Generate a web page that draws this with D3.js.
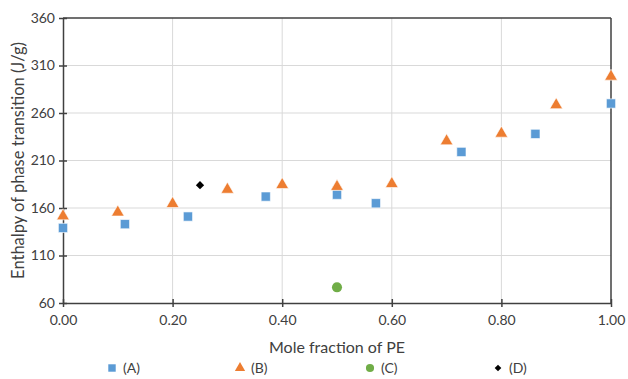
<!DOCTYPE html>
<html>
<head>
<meta charset="utf-8">
<script src="https://cdn.jsdelivr.net/npm/d3@7"></script>
<style>
  body { margin: 0; background: #fff; }
  svg { font-family: Lato, "Open Sans", sans-serif; }
</style>
</head>
<body>
<svg id="chart" width="628" height="379"></svg>
<script>
// series
const seriesA_x = [0.00, 0.113, 0.228, 0.370, 0.500, 0.571, 0.727, 0.862, 1.00];
const seriesA_y = [139, 143, 151, 172, 174, 165, 219, 238, 270];
const seriesB_x = [0.0, 0.1, 0.2, 0.3, 0.4, 0.5, 0.6, 0.7, 0.8, 0.9, 1.0];
const seriesB_y = [153, 157, 166, 181, 186, 184, 187, 232, 240, 270, 300];
const seriesC_x = [0.5];
const seriesC_y = [76.5];
const seriesD_x = [0.25];
const seriesD_y = [184];
const legendNames = ['(A)', '(B)', '(C)', '(D)'];
const xTicks = [0, 0.2, 0.4, 0.6, 0.8, 1.0];
const yTicks = [60, 110, 160, 210, 260, 310, 360];

const colors = ['#5b9bd5', '#ed7d31', '#70ad47', '#000000'];
const symbols = [d3.symbolSquare, d3.symbolTriangle, d3.symbolCircle, d3.symbolSquare];
const sizes = [85, 70, 80, 34];
const rot = [0, 0, 0, 45]; // diamond = square turned 45deg

const svg = d3.select('#chart');
const margin = { left: 63, right: 17, top: 18, bottom: 76 };
const W = 628, H = 379;

const x = d3.scaleLinear().domain([0, 1]).range([margin.left, W - margin.right]);
const y = d3.scaleLinear().domain([60, 360]).range([H - margin.bottom, margin.top]);

// grid
svg.append('g').selectAll('line.gy').data(yTicks.slice(1, -1)).join('line')
  .attr('x1', x(0)).attr('x2', x(1))
  .attr('y1', d => y(d)).attr('y2', d => y(d))
  .attr('stroke', '#d9d9d9').attr('stroke-width', 1);
svg.append('g').selectAll('line.gx').data(xTicks.slice(1, -1)).join('line')
  .attr('x1', d => x(d)).attr('x2', d => x(d))
  .attr('y1', y(60)).attr('y2', y(360))
  .attr('stroke', '#d9d9d9').attr('stroke-width', 1);

// axes
const xAxis = svg.append('g')
  .attr('transform', `translate(0,${y(60)})`)
  .call(d3.axisBottom(x).tickValues(xTicks).tickFormat(d3.format('.2f')).tickSizeInner(4).tickSizeOuter(0).tickPadding(8));
const yAxis = svg.append('g')
  .attr('transform', `translate(${x(0)},0)`)
  .call(d3.axisLeft(y).tickValues(yTicks).tickSizeInner(4).tickSizeOuter(0).tickPadding(4));
[xAxis, yAxis].forEach(a => {
  a.selectAll('path, line').attr('stroke', '#404040').attr('stroke-width', 1.5);
  a.selectAll('text').attr('fill', '#404040').style('font-size', '14px')
    .style('font-family', 'Lato, "Open Sans", sans-serif');
});
// ticks cross the axis
xAxis.selectAll('.tick line').attr('y1', -4);
yAxis.selectAll('.tick line').attr('x1', 4);

// frame top/right
svg.append('line').attr('x1', x(0)).attr('x2', x(1)).attr('y1', y(360)).attr('y2', y(360))
  .attr('stroke', '#404040').attr('stroke-width', 1.5);
svg.append('line').attr('x1', x(1)).attr('x2', x(1)).attr('y1', y(360)).attr('y2', y(60))
  .attr('stroke', '#404040').attr('stroke-width', 1.5);

// titles
svg.append('text')
  .attr('x', (x(0) + x(1)) / 2).attr('y', 353)
  .attr('text-anchor', 'middle').attr('fill', '#404040').style('font-size', '16px')
  .text('Mole fraction of PE');
svg.append('text')
  .attr('transform', `translate(24,${(y(60) + y(360)) / 2}) rotate(-90)`)
  .attr('text-anchor', 'middle').attr('fill', '#404040').style('font-size', '16.5px')
  .text('Enthalpy of phase transition (J/g)');

// points
const series = [
  [seriesA_x, seriesA_y], [seriesB_x, seriesB_y],
  [seriesC_x, seriesC_y], [seriesD_x, seriesD_y]
];
series.forEach(([xs, ys], i) => {
  svg.append('g').selectAll('path').data(xs.map((v, j) => [v, ys[j]])).join('path')
    .attr('transform', d => `translate(${x(d[0])},${y(d[1]) + (i === 1 ? 1.5 : 0)}) rotate(${rot[i]})`)
    .attr('d', d3.symbol().type(symbols[i]).size(sizes[i]))
    .attr('fill', colors[i])
    .attr('stroke', i < 2 ? '#ffffff' : 'none').attr('stroke-width', 0.6);
});

// legend
const legendX = d3.scaleOrdinal().domain(legendNames).range([112, 240, 370, 498]);
const lg = svg.append('g').selectAll('g').data(legendNames).join('g')
  .attr('transform', d => `translate(${legendX(d)},368)`);
lg.append('path')
  .attr('transform', (d, i) => `rotate(${rot[i]})`)
  .attr('d', (d, i) => d3.symbol().type(symbols[i]).size(sizes[i] * 0.65)())
  .attr('fill', (d, i) => colors[i]);
lg.append('text').attr('x', 11).attr('dy', '0.35em')
  .attr('fill', '#404040').style('font-size', '14px').text(d => d);
</script>
</body>
</html>
